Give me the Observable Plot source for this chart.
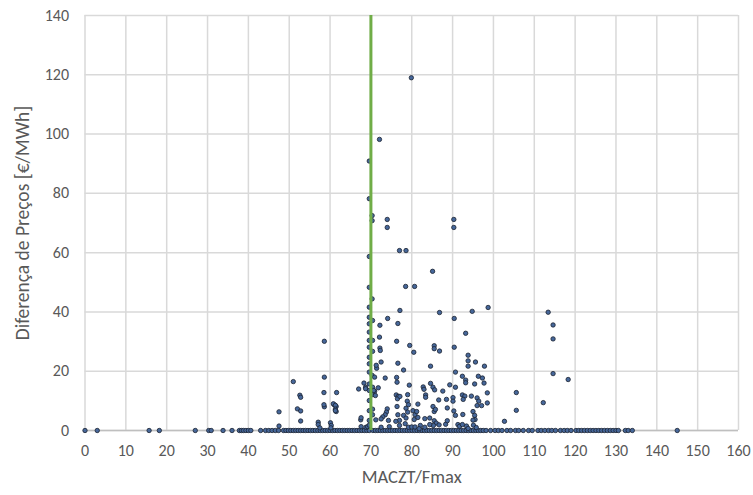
<!DOCTYPE html>
<html>
<head>
<meta charset="utf-8">
<script src="https://cdn.jsdelivr.net/npm/d3@7"></script>
<script src="https://cdn.jsdelivr.net/npm/@observablehq/plot@0.6"></script>
<style>
  html, body { margin: 0; padding: 0; background: #fff; }
  #chart { width: 753px; height: 495px; }
</style>
</head>
<body>
<div id="chart"></div>
<script>
// Tick labels and axis titles
const xTicks = [0, 10, 20, 30, 40, 50, 60, 70, 80, 90, 100, 110, 120, 130, 140, 150, 160];
const yTicks = [0, 20, 40, 60, 80, 100, 120, 140];
const xTitle = ["MACZT/Fmax"];
const yTitle = ["Diferença de Preços [€/MWh]"];

// Threshold line
const thresholdX = [70];

// Points lying on zero price difference (x values)
const zeroX = [0, 3, 15.7, 18.2, 27, 30.3, 30.9, 33.8, 36, 37.8, 38.3, 38.8, 39.4, 40, 40.6, 43, 44.2, 45, 45.8, 46.6, 47.4,
  48.6, 49.2, 49.8, 50.4, 51, 51.6, 52.2, 52.8, 53.4, 54, 54.6, 55.2, 55.8, 56.4, 57, 57.6, 58.2, 58.8, 59.4, 60, 60.6,
  61.2, 61.8, 62.4, 63, 63.6, 64.2, 64.8, 65.4, 66, 66.6, 67.2, 67.8, 68.4, 69, 69.6, 70.5, 71.1, 71.7, 72.3, 72.9, 73.5,
  74.1, 74.7, 75.3, 75.9, 76.5, 77.1, 77.7, 78.3, 78.9, 79.5, 80.1, 80.7, 81.3, 81.9, 82.5, 83.1, 83.7, 84.3, 84.9, 85.5,
  86.1, 86.7, 87.3, 87.9, 88.5, 89.1, 89.7, 90.3, 90.9, 91.5, 92.1, 92.7, 93.3, 93.9, 94.5, 95.1, 95.7, 96.3, 96.9, 97.5,
  98.2, 99.3, 100.4, 101.2, 102.1, 103.3, 104.2, 105.4, 106.2, 107.3, 108.6, 109.5, 110.9, 111.7, 112.6, 113.5, 114.3,
  115.2, 116.4, 117.3, 118.1, 119, 120.2, 120.9, 121.6, 122.3, 123, 123.7, 124.4, 125.1, 125.8, 126.5, 127.2, 127.9,
  128.6, 129.3, 130, 130.6, 132.3, 133, 134, 145];

// Points with a non-zero price difference
const dotX = [79.9, 72.1, 69.6, 69.6, 74.0, 74.0, 90.3, 90.3, 70.3, 70.3, 77.0, 78.6, 69.6, 85.1, 78.5, 80.7, 69.6, 70.3,
  98.7, 77.1, 86.8, 94.8, 113.4, 69.6, 74.1, 90.4, 70.4, 69.6, 76.6, 72.2, 69.6, 114.6, 69.6, 93.2, 58.6, 76.3, 114.6,
  69.6, 70.4, 79.5, 85.5, 85.5, 86.8, 72.2, 70.4, 80.5, 90.4, 69.6, 93.8, 93.8, 95.6, 93.8, 97.8, 72.5, 76.6, 84.6, 71.4,
  78.0, 69.6, 69.6, 69.6, 90.7, 114.6, 92.4, 96.3, 97.3, 118.3, 70.3, 93.2, 93.2, 95.4, 97.7, 51.0, 58.6, 70.9, 73.5,
  76.3, 76.4, 67.0, 68.3, 68.7, 68.7, 70.4, 70.9, 79.4, 82.8, 83.0, 84.6, 85.2, 85.6, 87.6, 89.3, 90.7, 92.4, 93.0, 92.6,
  94.6, 96.0, 96.4, 96.0, 97.1, 98.5, 98.5, 105.6, 105.6, 112.2, 102.7, 52.6, 58.5, 61.6, 52.8, 58.6, 61.0, 61.5, 61.5,
  52.0, 52.8, 52.8, 47.5, 47.5, 76.2, 76.7, 76.5, 77.1, 79.0, 78.9, 79.2, 78.6, 76.4, 81.5, 83.4, 83.4, 85.2, 85.5, 85.8,
  86.6, 88.5, 88.7, 90.1, 90.1, 90.3, 90.7, 92.5, 95.0, 95.4, 95.5, 80.3, 80.8, 80.6, 81.2, 81.5, 78.0, 78.6, 79.0, 76.6,
  77.0, 74.0, 73.8, 73.5, 72.9, 72.5, 71.2, 70.4, 70.4, 74.3, 76.1, 77.0, 83.2, 84.4, 85.5, 86.0, 86.7, 85.3, 88.3, 88.7,
  91.3, 91.7, 92.4, 93.4, 93.8, 95.0, 95.1, 95.8, 84.4, 83.2, 78.4, 79.2, 80.0, 80.8, 82.1, 81.8, 57.1, 57.1, 57.5, 60.1,
  60.3, 60.2, 67.5, 67.6, 68.8, 69.2, 72.5, 74.5, 69.6, 69.6, 69.6, 69.6, 69.6, 70.3, 70.3, 71.1, 71.8, 70.7, 67.6, 60.8,
  61.3, 61.3, 61.3, 58.5, 72.1, 72.3, 71.3, 69.6];
const dotY = [119, 98.2, 90.9, 78.2, 71.2, 68.5, 71.2, 68.5, 72.5, 70.8, 60.7, 60.7, 58.7, 53.7, 48.6, 48.6, 48.3, 44.4,
  41.5, 40.5, 39.8, 40.2, 39.9, 41.6, 37.8, 37.8, 37.1, 38.2, 36.1, 35.5, 36.0, 35.6, 33.2, 32.8, 30.1, 30.1, 30.9,
  30.4, 30.4, 28.7, 28.6, 27.6, 26.8, 27.8, 26.7, 26.4, 28.1, 28.1, 25.4, 23.5, 23.1, 21.7, 21.7, 23.1, 22.7, 21.7, 21.0,
  20.4, 24.7, 22.5, 19.7, 19.7, 19.2, 18.3, 18.3, 17.7, 17.2, 18.6, 17.0, 16.1, 15.7, 16.0, 16.5, 18.0, 18.0, 17.7,
  17.9, 16.3, 14.0, 16.0, 14.6, 14.1, 14.6, 13.2, 15.3, 14.7, 13.9, 15.9, 14.6, 13.7, 13.3, 15.4, 14.6, 12.0, 11.6, 10.5,
  11.6, 11.0, 9.9, 8.4, 8.4, 12.7, 9.3, 12.8, 6.8, 9.4, 3.1, 11.9, 12.8, 12.8, 11.2, 8.0, 8.7, 8.1, 6.4,
  7.3, 6.6, 3.2, 6.3, 1.5, 12.0, 11.5, 10.7, 11.5, 12.1, 9.9, 8.7, 7.5, 8.1, 8.9, 12.0, 11.2, 8.1, 6.4, 7.1,
  10.3, 10.5, 7.6, 11.1, 9.9, 6.6, 5.1, 5.4, 6.4, 5.1, 3.7, 6.7, 5.3, 3.7, 6.4, 4.4, 5.1, 4.2, 6.2, 5.3,
  3.4, 7.3, 6.2, 5.3, 4.6, 3.9, 3.6, 7.2, 5.3, 3.4, 3.1, 1.7, 4.0, 4.2, 3.3, 2.5, 1.9, 1.7, 2.1, 3.3,
  2.0, 1.4, 2.0, 1.5, 0.7, 3.5, 1.8, 1.0, 2.0, 1.1, 2.3, 1.1, 1.2, 1.2, 1.7, 0.6, 2.8, 2.0, 0.9, 2.6,
  1.7, 0.9, 3.6, 1.3, 1.1, 1.3, 1.1, 1.3, 15.7, 13.5, 10.1, 6.7, 3.4, 13.5, 12.1, 11.8, 14.4, 13.5, 4.3, 9.0,
  8.5, 7.2, 6.7, 8.7, 31.5, 27.0, 22.0, 1.8];

const points = [
  ...zeroX.map(x => ({x, y: 0})),
  ...dotX.map((x, i) => ({x, y: dotY[i]}))
];

const font = "Carlito, Calibri, Lato, 'Open Sans', sans-serif";

const chart = Plot.plot({
  width: 753,
  height: 495,
  marginLeft: 84.5,
  marginRight: 15,
  marginTop: 15,
  marginBottom: 65,
  style: {fontFamily: font, fontSize: "16px", color: "#595959", background: "#fff"},
  x: {domain: [0, 160]},
  y: {domain: [0, 140]},
  marks: [
    Plot.gridX(xTicks, {stroke: "#d9d9d9", strokeOpacity: 1, strokeWidth: 1.5}),
    Plot.gridY(yTicks, {stroke: "#d9d9d9", strokeOpacity: 1, strokeWidth: 1.5}),
    Plot.ruleY([0], {stroke: "#bfbfbf", strokeWidth: 1.5}),
    Plot.dot(points, {x: "x", y: "y", r: 2.2, fill: "#46679a", stroke: "#1b2230", strokeWidth: 0.8}),
    Plot.ruleX(thresholdX, {y1: 0, y2: 140, stroke: "#70ad47", strokeWidth: 3}),
    Plot.axisX({ticks: xTicks, tickSize: 0, tickPadding: 14, fontSize: 16, label: null}),
    Plot.axisY({ticks: yTicks, tickSize: 0, tickPadding: 16, fontSize: 16, label: null}),
    Plot.text(xTitle, {text: d => d, frameAnchor: "bottom", dy: 47, lineAnchor: "middle", textAnchor: "middle", fontSize: 18.5, fill: "#595959"}),
    Plot.text(yTitle, {text: d => d, frameAnchor: "left", dx: -62, rotate: -90, lineAnchor: "middle", textAnchor: "middle", fontSize: 19.5, fill: "#595959"})
  ]
});
document.getElementById("chart").appendChild(chart);
</script>
</body>
</html>
